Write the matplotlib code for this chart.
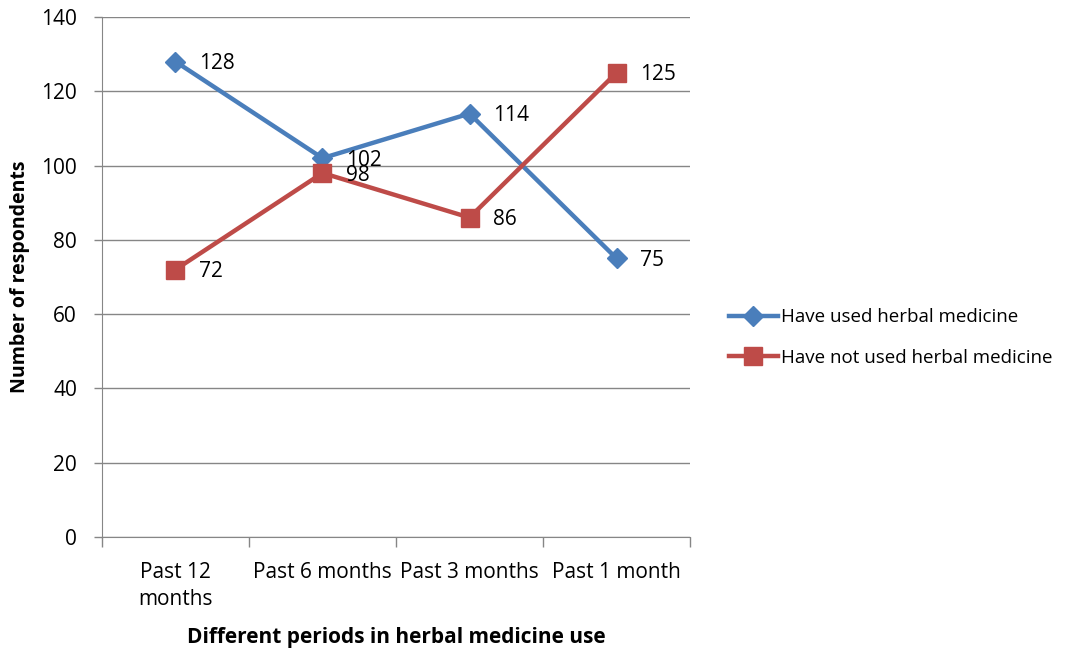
import matplotlib
matplotlib.use("Agg")
import matplotlib.pyplot as plt
from matplotlib.lines import Line2D

categories = ["Past 12\nmonths", "Past 6 months", "Past 3 months", "Past 1 month"]
used = [128, 102, 114, 75]
not_used = [72, 98, 86, 125]
series_names = ["Have used herbal medicine", "Have not used herbal medicine"]

plt.rcParams["font.family"] = ["Open Sans", "DejaVu Sans"]

BLUE = "#4A7EBB"
RED = "#BE4B48"
GRID = "#868686"

fig = plt.figure(figsize=(10.71, 6.54), dpi=100)
ax = fig.add_axes([0.0952, 0.1789, 0.5491, 0.7951])

x = list(range(len(categories)))
ax.plot(x, used, color=BLUE, lw=3.2, marker="D", ms=10.5, zorder=3)
ax.plot(x, not_used, color=RED, lw=3.2, marker="s", ms=13, zorder=3)

# data labels sit just right of each point
for xi, v in zip(x, used):
    ax.annotate(str(v), (xi, v), xytext=(17, -1.5), textcoords="offset points",
                va="center", ha="left", fontsize=15)
for xi, v in zip(x, not_used):
    ax.annotate(str(v), (xi, v), xytext=(17, -1.5), textcoords="offset points",
                va="center", ha="left", fontsize=15)

ax.set_xlim(-0.5, len(categories) - 0.5)
ax.set_ylim(0, 140)
ax.set_yticks(range(0, 141, 20))
ax.yaxis.grid(True, color=GRID, lw=1)
ax.set_axisbelow(True)

ax.set_xticks(x)
ax.set_xticklabels(categories, fontsize=15, linespacing=1.4)
ax.tick_params(axis="x", length=0, pad=18)
ax.set_xticks([i - 0.5 for i in range(len(categories) + 1)], minor=True)
ax.tick_params(axis="x", which="minor", length=7, color=GRID, width=1)
ax.tick_params(axis="y", length=6, color=GRID, width=1, labelsize=15, pad=12)

for side in ["top", "right"]:
    ax.spines[side].set_visible(False)
for side in ["left", "bottom"]:
    ax.spines[side].set_color(GRID)

ax.set_xlabel("Different periods in herbal medicine use", fontsize=15,
              fontweight="bold", labelpad=12)
ax.set_ylabel("Number of respondents", fontsize=14, fontweight="bold",
              labelpad=8)

handles = [
    Line2D([], [], color=BLUE, lw=3.2, marker="D", ms=10.5),
    Line2D([], [], color=RED, lw=3.2, marker="s", ms=13),
]
fig.legend(handles, series_names, loc="center left",
           bbox_to_anchor=(0.665, 0.484), frameon=False, fontsize=13.5,
           handlelength=2.6, handletextpad=0.15, labelspacing=1.2)

fig.savefig("out.png", dpi=100)
